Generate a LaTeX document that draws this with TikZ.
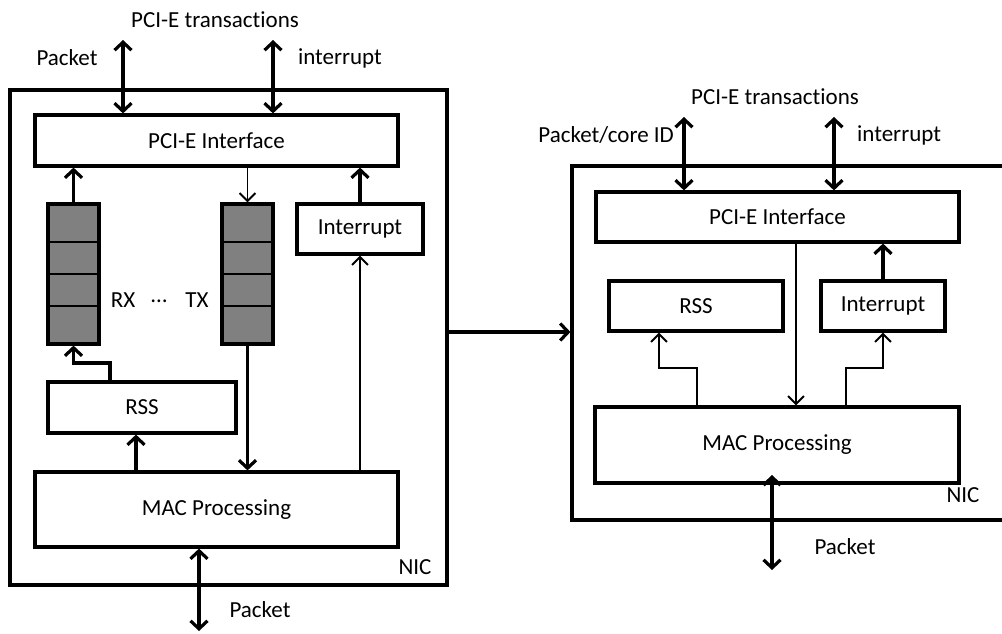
\documentclass[tikz,border=0pt]{standalone}
\usepackage{fontspec}
\setmainfont{Carlito}[Ligatures=NoCommon]
\usetikzlibrary{arrows.meta,calc}

\tikzset{
  blk/.style={draw, line width=3.2pt, rectangle, inner sep=0pt, fill=white,
              font=\fontsize{23}{26}\selectfont},
  nic/.style={draw, line width=3.2pt, rectangle, inner sep=0pt},
  queue/.style={draw, line width=3.2pt, rectangle, inner sep=0pt, fill=black!50},
  lbl/.style={inner sep=0pt, font=\fontsize{23}{26}\selectfont},
  thickarr/.style={line width=3.2pt, -{Straight Barb[length=8pt, width=17pt, line width=3.2pt]}},
  thickboth/.style={line width=3.2pt, {Straight Barb[length=8pt, width=17pt, line width=3.2pt]}-{Straight Barb[length=8pt, width=17pt, line width=3.2pt]}},
  thinarr/.style={line width=1.7pt, -{Straight Barb[length=8pt, width=16pt, line width=1.9pt]}},
  divider/.style={line width=1.7pt}
}

\begin{document}
\begin{tikzpicture}[x=1pt, y=-1pt]
\useasboundingbox (0,0) rectangle (1002,634);
\clip (0,0) rectangle (1002,634);

% ---------- left NIC ----------
\node[nic, minimum width=437pt, minimum height=495pt] (nicL) at (228.5,337.5) {};
\node[blk, minimum width=363pt, minimum height=51pt] (pcieL) at (216.5,140.5) {PCI-E Interface};
\node[queue, minimum width=51pt, minimum height=140pt] (rxq) at (73.5,274) {};
\node[queue, minimum width=51pt, minimum height=140pt] (txq) at (247.5,274) {};
\node[blk, minimum width=126pt, minimum height=50pt] (intL) at (360,229) {Interrupt};
\node[blk, minimum width=188pt, minimum height=51pt] (rssL) at (142,407.5) {RSS};
\node[blk, minimum width=363pt, minimum height=75pt] (macL) at (216.5,509.5) {MAC Processing};

% queue slots
\foreach \q in {rxq,txq}{
  \foreach \yy in {242,274,306}{
    \draw[divider] (\q.west |- 0,\yy) -- (\q.east |- 0,\yy);
  }
}

\node[lbl] (rxl) at (123,300) {RX};
\node[lbl] (dots) at (159,301) {\dots};
\node[lbl] (txl) at (197,300) {TX};
\node[lbl] (nicLl) at (415,567) {NIC};

\node[lbl] (pciTL) at (215,20) {PCI-E transactions};
\node[lbl] (pktTL) at (67,58) {Packet};
\node[lbl] (intTL) at (340,58) {interrupt};
\node[lbl] (pktBL) at (260,610) {Packet};

\coordinate (hostPktL) at (123,40);
\coordinate (hostIntL) at (273,40);
\coordinate (wireL) at (199,631);

\draw[thickboth] (hostPktL) -- (hostPktL |- pcieL.north);
\draw[thickboth] (hostIntL) -- (hostIntL |- pcieL.north);
\draw[thickarr] (rxq.north) -- (rxq.north |- pcieL.south);
\draw[thinarr] (txq.north |- pcieL.south) -- (txq.north);
\draw[thickarr] (intL.north) -- (intL.north |- pcieL.south);
\draw[thickarr] (rssL.north -| 110,0) |- (rxq.south |- 0,363) -- (rxq.south);
\draw[thickarr] (macL.north -| 136,0) -- (rssL.south -| 136,0);
\draw[thickarr] (txq.south) -- (txq.south |- macL.north);
\draw[thinarr] (intL.south |- macL.north) -- (intL.south);
\draw[thickboth] (macL.south -| wireL) -- (wireL);

% ---------- right NIC ----------
\node[nic, minimum width=450pt, minimum height=354pt] (nicR) at (797,343) {};
\node[blk, minimum width=363pt, minimum height=50pt] (pcieR) at (777.5,217) {PCI-E Interface};
\node[blk, minimum width=174pt, minimum height=50pt] (rssR) at (696,306) {RSS};
\node[blk, minimum width=124pt, minimum height=50pt] (intR) at (883,306) {Interrupt};
\node[blk, minimum width=364pt, minimum height=76pt] (macR) at (777,445) {MAC Processing};

\node[lbl] (nicRl) at (963,495) {NIC};
\node[lbl] (pciTR) at (775,97) {PCI-E transactions};
\node[lbl, anchor=east] (pktTR) at (674,135) {Packet/core ID};
\node[lbl, anchor=west] (intTR) at (857,135) {interrupt};
\node[lbl] (pktBR) at (845,547) {Packet};

\coordinate (hostPktR) at (684,117);
\coordinate (hostIntR) at (834,117);
\coordinate (wireR) at (772,570);

\draw[thickboth] (hostPktR) -- (hostPktR |- pcieR.north);
\draw[thickboth] (hostIntR) -- (hostIntR |- pcieR.north);
\draw[thickarr] (intR.north) -- (intR.north |- pcieR.south);
\draw[thinarr] (pcieR.south -| 796,0) -- (macR.north -| 796,0);
\draw[thinarr] (macR.north -| 697,0) |- (659,368) -- (rssR.south -| 659,0);
\draw[thinarr] (macR.north -| 846,0) |- (intR.south |- 0,368) -- (intR.south);
\draw[thickboth] (wireR |- 0,475) -- (wireR);

% ---------- hand-off between the two designs ----------
\draw[thickarr] (nicL.east |- 0,332) -- (nicR.west |- 0,332);

\end{tikzpicture}
\end{document}
